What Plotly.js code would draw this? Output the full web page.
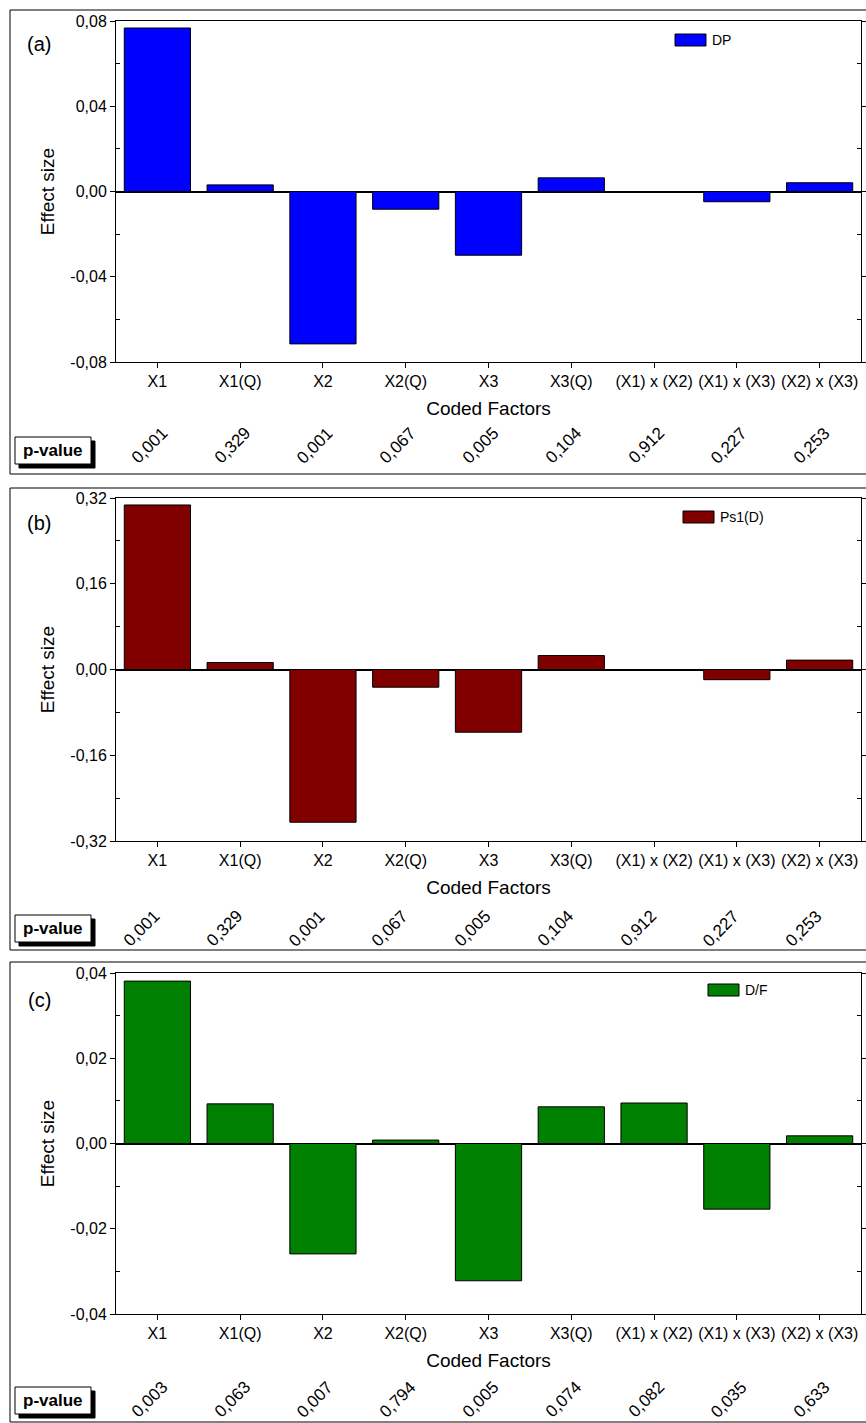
<!DOCTYPE html>
<html>
<head>
<meta charset="utf-8">
<script src="https://cdn.plot.ly/plotly-3.0.1.min.js"></script>
<style>html,body{margin:0;padding:0;background:#fff;}#chart{width:866px;height:1423px;}</style>
</head>
<body>
<div id="chart"></div>
<script>
// ---------- data ----------
const categories = ['X1','X1(Q)','X2','X2(Q)','X3','X3(Q)','(X1) x (X2)','(X1) x (X3)','(X2) x (X3)'];

const dpEffect  = [0.0767, 0.0031, -0.0715, -0.0083, -0.0299, 0.0064, -0.0004, -0.0048, 0.0041];
const ps1Effect = [0.307, 0.013, -0.285, -0.033, -0.117, 0.026, -0.001, -0.019, 0.0175];
const dfEffect  = [0.0381, 0.0093, -0.0259, 0.0008, -0.0322, 0.0086, 0.0095, -0.0154, 0.0018];

const dpPValues  = ['0,001','0,329','0,001','0,067','0,005','0,104','0,912','0,227','0,253'];
const ps1PValues = ['0,001','0,329','0,001','0,067','0,005','0,104','0,912','0,227','0,253'];
const dfPValues  = ['0,003','0,063','0,007','0,794','0,005','0,074','0,082','0,035','0,633'];

const dpTickVals  = [-0.08, -0.04, 0, 0.04, 0.08];
const dpTickText  = ['-0,08','-0,04','0,00','0,04','0,08'];
const dpMinor     = [-0.06, -0.02, 0.02, 0.06];
const ps1TickVals = [-0.32, -0.16, 0, 0.16, 0.32];
const ps1TickText = ['-0,32','-0,16','0,00','0,16','0,32'];
const ps1Minor    = [-0.24, -0.08, 0.08, 0.24];
const dfTickVals  = [-0.04, -0.02, 0, 0.02, 0.04];
const dfTickText  = ['-0,04','-0,02','0,00','0,02','0,04'];
const dfMinor     = [-0.03, -0.01, 0.01, 0.03];

const seriesNames = ['DP', 'Ps1(D)', 'D/F'];
const panelLabels = ['(a)', '(b)', '(c)'];

// ---------- layout helpers ----------
const W = 866, H = 1423;
const px = x => x / W;
const py = y => 1 - y / H;
const FONT = 'Liberation Sans, Arial, sans-serif';

const panels = [
  {vals: dpEffect,  pv: dpPValues,  tv: dpTickVals,  tt: dpTickText,  minor: dpMinor,  color: '#0000FF',
   top: 21, bottom: 362, box: [10, 474], pvY: 445, pShift: -8, pBox: 437, leg: [675, 34], lab: 44},
  {vals: ps1Effect, pv: ps1PValues, tv: ps1TickVals, tt: ps1TickText, minor: ps1Minor, color: '#800000',
   top: 498, bottom: 841, box: [488, 950], pvY: 928, pShift: -16, pBox: 915, leg: [683, 511], lab: 523},
  {vals: dfEffect,  pv: dfPValues,  tv: dfTickVals,  tt: dfTickText,  minor: dfMinor,  color: '#008000',
   top: 973, bottom: 1314, box: [962, 1422], pvY: 1399, pShift: -8, pBox: 1387, leg: [708, 984], lab: 1000}
];

const data = [];
const layout = {
  width: W, height: H,
  margin: {l: 0, r: 0, t: 0, b: 0},
  paper_bgcolor: '#fff', plot_bgcolor: '#fff',
  showlegend: false,
  separators: ',.',
  font: {family: FONT, color: '#000', size: 16},
  bargap: 0.2,
  shapes: [], annotations: []
};

panels.forEach((p, i) => {
  const n = i === 0 ? '' : String(i + 1);
  const xa = 'x' + n, ya = 'y' + n;
  data.push({
    type: 'bar', x: categories, y: p.vals, name: seriesNames[i],
    xaxis: xa, yaxis: ya, width: 0.8,
    marker: {color: p.color, line: {color: '#000', width: 1}}
  });
  const range = [p.tv[0], p.tv[p.tv.length - 1]];
  layout['xaxis' + n] = {
    domain: [px(116), px(861)], anchor: ya, type: 'category',
    showline: true, linecolor: '#000', linewidth: 1, mirror: true,
    ticks: 'outside', ticklen: 5, tickcolor: '#000', tickangle: 0,
    tickfont: {size: 16}, showgrid: false, zeroline: false, automargin: false,
    title: {text: 'Coded Factors', font: {size: 19}, standoff: 12}
  };
  layout['yaxis' + n] = {
    domain: [py(p.bottom), py(p.top)], anchor: xa, range: range,
    showline: true, linecolor: '#000', linewidth: 1, mirror: 'ticks',
    tickmode: 'array', tickvals: p.tv, ticktext: p.tt,
    ticks: 'outside', ticklen: 5, tickcolor: '#000', tickfont: {size: 16},
    minor: {tickmode: 'array', tickvals: p.minor, ticks: 'inside', ticklen: 4, tickcolor: '#000', showgrid: false},
    showgrid: false, zeroline: true, zerolinecolor: '#000', zerolinewidth: 2,
    automargin: false,
    title: {text: 'Effect size', font: {size: 19}, standoff: 10}
  };

  // outer frame
  layout.shapes.push({type: 'rect', xref: 'paper', yref: 'paper',
    x0: px(10), x1: px(868), y0: py(p.box[1]), y1: py(p.box[0]),
    line: {color: '#000', width: 1}, layer: 'below'});

  // legend swatch
  layout.shapes.push({type: 'rect', xref: 'paper', yref: 'paper',
    x0: px(p.leg[0]), x1: px(p.leg[0] + 31), y0: py(p.leg[1] + 12), y1: py(p.leg[1]),
    fillcolor: p.color, line: {color: '#000', width: 1}});
  layout.annotations.push({xref: 'paper', yref: 'paper', x: px(p.leg[0] + 35), y: py(p.leg[1] + 6),
    xanchor: 'left', yanchor: 'middle', text: seriesNames[i], showarrow: false, font: {size: 14}});

  // panel label
  layout.annotations.push({xref: 'paper', yref: 'paper', x: px(39), y: py(p.lab),
    xanchor: 'center', yanchor: 'middle', text: panelLabels[i], showarrow: false, font: {size: 20}});

  // p-value box with shadow
  layout.shapes.push({type: 'rect', xref: 'paper', yref: 'paper',
    x0: px(19), x1: px(95), y0: py(p.pBox + 31), y1: py(p.pBox + 4),
    fillcolor: '#000', line: {color: '#000', width: 1}});
  layout.shapes.push({type: 'rect', xref: 'paper', yref: 'paper',
    x0: px(15), x1: px(91), y0: py(p.pBox + 27), y1: py(p.pBox),
    fillcolor: '#fff', line: {color: '#000', width: 1}});
  layout.annotations.push({xref: 'paper', yref: 'paper', x: px(53), y: py(p.pBox + 13.5),
    xanchor: 'center', yanchor: 'middle', text: '<b>p-value</b>', showarrow: false, font: {size: 17}});

  // p-values
  categories.forEach((c, k) => {
    layout.annotations.push({xref: xa, yref: 'paper', x: c, y: py(p.pvY), xshift: p.pShift,
      xanchor: 'center', yanchor: 'middle', text: p.pv[k], textangle: -45, showarrow: false,
      font: {size: 17}});
  });
});

Plotly.newPlot('chart', data, layout, {displayModeBar: false, staticPlot: true});
</script>
</body>
</html>
